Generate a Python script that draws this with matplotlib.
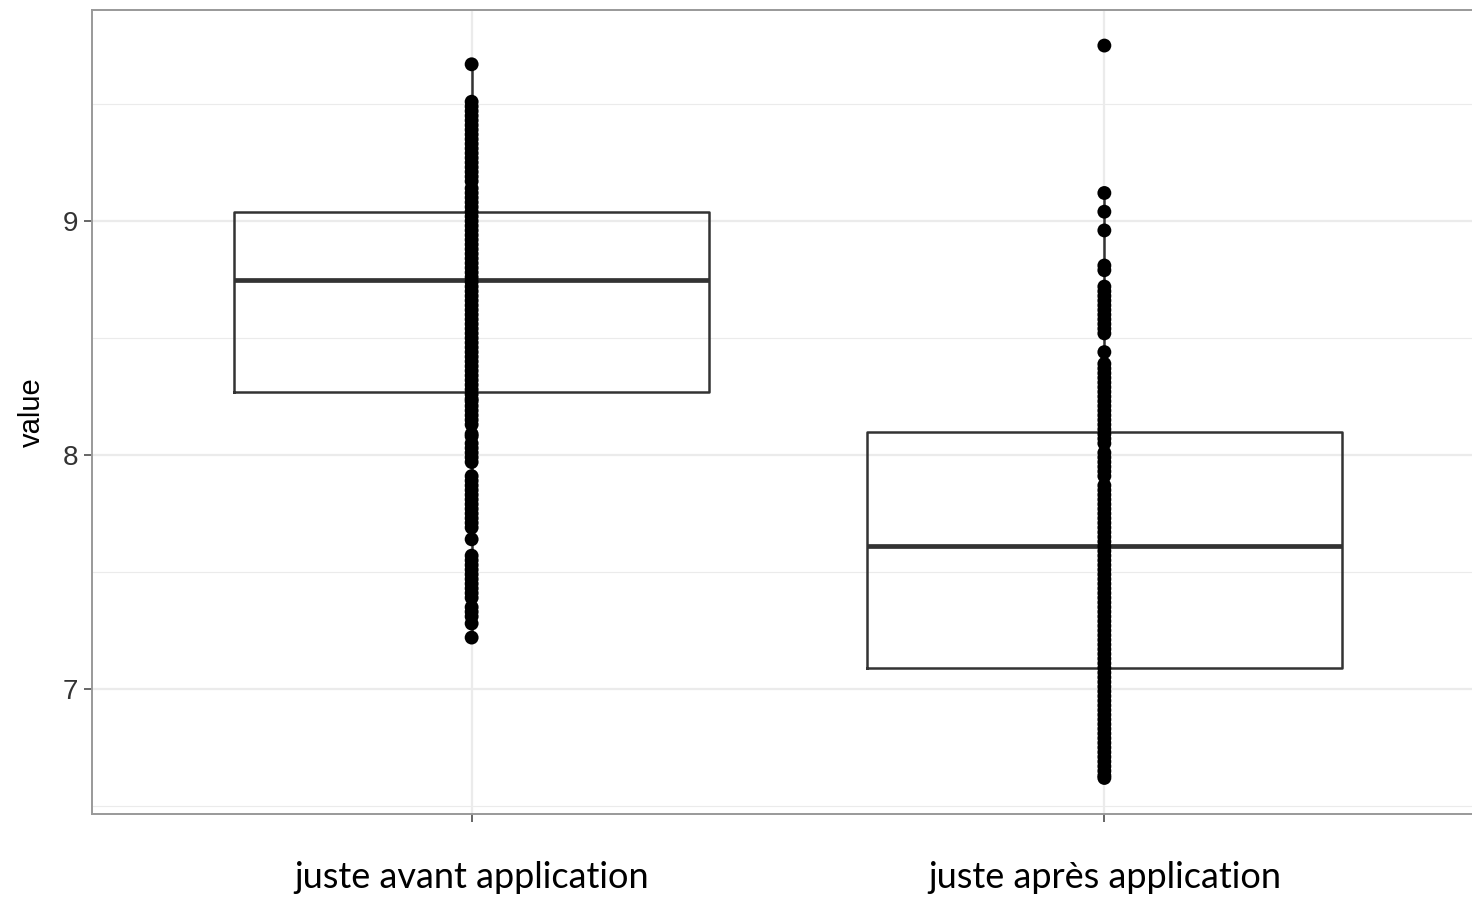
import matplotlib
matplotlib.use("Agg")
import matplotlib.pyplot as plt

# categories
categories = ["juste avant application", "juste après application"]

# raw points
before_values = [
    9.67,
    9.51, 9.49, 9.47, 9.45, 9.43, 9.41, 9.39, 9.37, 9.35, 9.33, 9.31, 9.29,
    9.27, 9.25, 9.23, 9.21, 9.19, 9.17, 9.14, 9.12, 9.10, 9.08, 9.06, 9.04,
    9.02, 9.00, 8.98, 8.96, 8.94, 8.92, 8.90, 8.88, 8.86, 8.84, 8.82, 8.80,
    8.78, 8.76, 8.74, 8.72, 8.70, 8.68, 8.66, 8.64, 8.62, 8.60, 8.58, 8.56,
    8.54, 8.52, 8.50, 8.48, 8.46, 8.44, 8.42, 8.40, 8.38, 8.36, 8.34, 8.32,
    8.30, 8.28, 8.26, 8.24,
    8.23, 8.21, 8.19, 8.17, 8.15, 8.13,
    8.09, 8.08,
    8.05, 8.03, 8.01, 7.99, 7.97,
    7.91, 7.89, 7.87, 7.85, 7.83, 7.81, 7.79, 7.77, 7.75, 7.73, 7.71, 7.69,
    7.64,
    7.57, 7.55, 7.53, 7.51, 7.49, 7.47, 7.45, 7.43, 7.41,
    7.39,
    7.35, 7.33, 7.31, 7.28,
    7.22,
]
after_values = [
    9.75,
    9.12, 9.04, 8.96,
    8.81, 8.79,
    8.72, 8.70, 8.68, 8.66, 8.64, 8.62, 8.60, 8.58, 8.56, 8.54, 8.52,
    8.44,
    8.39, 8.37, 8.35, 8.33, 8.31, 8.29, 8.27, 8.25, 8.23, 8.21, 8.19, 8.17,
    8.15, 8.13, 8.11, 8.09, 8.07, 8.05,
    8.01, 7.99, 7.97, 7.95, 7.93, 7.91,
    7.87, 7.85, 7.83, 7.81, 7.79, 7.77, 7.75, 7.73, 7.71, 7.69, 7.67, 7.65,
    7.63, 7.61, 7.59, 7.57, 7.55, 7.53, 7.51, 7.49, 7.47, 7.45, 7.43, 7.41,
    7.39, 7.37, 7.35, 7.33, 7.31, 7.29, 7.27, 7.25, 7.23, 7.21, 7.19, 7.17,
    7.15, 7.13, 7.11, 7.09, 7.07, 7.05, 7.03, 7.01, 6.99, 6.97, 6.95, 6.93,
    6.91, 6.89, 6.87, 6.85, 6.83, 6.81, 6.79, 6.77, 6.75, 6.73, 6.71, 6.69,
    6.67, 6.65, 6.63, 6.62,
]

# box statistics
whislo = [7.22, 6.62]
q1 = [8.27, 7.09]
med = [8.75, 7.61]
q3 = [9.04, 8.10]
whishi = [9.67, 9.12]

y_ticks = [7, 8, 9]
y_minor = [6.5, 7.5, 8.5, 9.5]

fig = plt.figure(figsize=(14.72, 9.01), dpi=100)
ax = fig.add_axes([92 / 1472, 1 - 814 / 901, (1484 - 92) / 1472, (814 - 10) / 901])

positions = [1, 2]
stats = []
for i in range(2):
    stats.append(dict(whislo=whislo[i], q1=q1[i], med=med[i], q3=q3[i],
                      whishi=whishi[i], fliers=[]))

ax.bxp(stats, positions=positions, widths=0.75, showcaps=False,
       boxprops=dict(color="#333333", linewidth=1.8),
       whiskerprops=dict(color="#333333", linewidth=1.8),
       medianprops=dict(color="#333333", linewidth=3.4),
       zorder=3)

for pos, vals in zip(positions, [before_values, after_values]):
    ax.scatter([pos] * len(vals), vals, s=100, color="black",
               edgecolors="none", zorder=4)

ax.set_xlim(0.4, 2.6)
ax.set_ylim(6.466, 9.902)

ax.set_yticks(y_ticks)
ax.set_yticks(y_minor, minor=True)
ax.set_xticks(positions)
ax.set_xticklabels(categories, fontfamily=["Lato", "DejaVu Sans"], fontsize=26)
ax.set_yticklabels([str(t) for t in y_ticks], fontfamily="Liberation Sans",
                   fontsize=20, color="#333333")

ax.grid(True, which="major", color="#ebebeb", linewidth=1.6, zorder=0)
ax.grid(True, which="minor", axis="y", color="#ebebeb", linewidth=0.8, zorder=0)
ax.set_axisbelow(True)

ax.tick_params(axis="x", which="major", length=6, width=1.2, color="#4d4d4d", pad=28)
ax.tick_params(axis="y", which="major", length=6, width=1.2, color="#4d4d4d", pad=4)
ax.tick_params(which="minor", length=0)

for side in ["left", "right", "top", "bottom"]:
    ax.spines[side].set_color("#999999")
    ax.spines[side].set_linewidth(1.4)

ax.set_ylabel("value", fontfamily="Liberation Sans", fontsize=21, labelpad=12)
ax.set_xlabel("")

fig.savefig("out.png", dpi=100)
